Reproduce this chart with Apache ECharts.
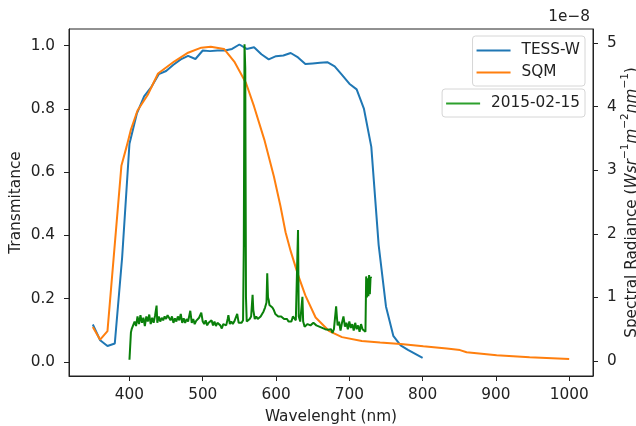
<!DOCTYPE html>
<html>
<head>
<meta charset="utf-8">
<script src="https://cdn.jsdelivr.net/npm/echarts@6/dist/echarts.min.js"></script>
<style>
html,body{margin:0;padding:0;background:#fff;}
#chart{width:636px;height:426px;}
</style>
</head>
<body>
<div id="chart"></div>
<script>
// ---- data ----
var tessWavelength = [350,360,370,380,390,400,410,420,430,440,450,460,470,480,490,500,510,520,530,540,550,560,570,580,590,600,610,620,630,640,650,660,670,680,690,700,710,720,730,740,750,760,770,780,790,800];
var tessValues = [0.118,0.068,0.050,0.058,0.33,0.69,0.785,0.84,0.87,0.91,0.92,0.94,0.957,0.968,0.958,0.985,0.983,0.985,0.985,0.99,1.004,0.99,0.995,0.973,0.957,0.967,0.969,0.977,0.963,0.942,0.944,0.946,0.948,0.935,0.908,0.88,0.862,0.80,0.68,0.37,0.175,0.082,0.052,0.038,0.025,0.012];

var sqmWavelength = [350,360,370,389,396,402,411,425,439,461,480,498,511,529,543,559,570,584,597,606,613,620,630,640,654,672,690,717,742,770,801,833,851,860,901,946,1000];
var sqmValues = [0.11,0.07,0.097,0.62,0.68,0.735,0.795,0.845,0.912,0.95,0.978,0.994,0.997,0.99,0.95,0.882,0.808,0.703,0.587,0.493,0.41,0.35,0.275,0.21,0.14,0.098,0.078,0.066,0.061,0.056,0.049,0.042,0.037,0.030,0.021,0.014,0.0085];

// spectral radiance, units of 1e-8 W sr^-1 m^-2 nm^-1
var specWavelength = [400,401,402,403,405,407,409,411,413,415,417,419,421,423,425,427,429,431,433,435,437,438,440,442,444,446,448,450,452,454,456,458,460,462,464,466,468,470,472,474,476,478,480,483,485,487,489,491,493,495,497,498,500,502,504,506,508,510,512,514,516,518,520,522,524,526,528,530,532,534,535,537,539,541,543,545,547,549,551,553,555,556,557,558,559,560,562,564,566,568,569,571,573,575,577,579,581,583,585,587,588,589,590,591,593,595,597,599,601,603,605,607,609,611,613,615,617,619,621,623,625,627,629,630,631,633,635,636,637,639,641,643,645,647,649,651,653,655,657,659,661,663,665,667,669,671,673,675,677,679,681,682,683,684,686,688,690,692,694,696,698,700,702,704,706,708,710,712,714,716,718,720,722,723,724,725,726,727,728,729,730];
var specValues = [0.02,0.05,0.45,0.50,0.48,0.62,0.55,0.70,0.58,0.72,0.60,0.68,0.55,0.70,0.62,0.73,0.58,0.68,0.60,0.72,0.87,0.60,0.70,0.62,0.68,0.64,0.70,0.66,0.72,0.70,0.64,0.70,0.60,0.67,0.62,0.70,0.64,0.74,0.60,0.67,0.60,0.66,0.62,0.79,0.60,0.66,0.58,0.63,0.60,0.68,0.66,0.76,0.62,0.58,0.64,0.56,0.60,0.58,0.64,0.56,0.62,0.55,0.60,0.58,0.56,0.51,0.58,0.60,0.56,0.66,0.72,0.58,0.62,0.58,0.62,0.60,0.74,0.60,0.62,0.60,0.64,1.8,4.98,4.6,1.0,0.62,0.60,0.66,0.70,1.04,0.80,0.66,0.70,0.66,0.68,0.70,0.72,0.78,0.84,0.92,1.38,1.0,0.96,0.88,0.90,0.84,0.80,0.74,0.72,0.70,0.68,0.70,0.68,0.66,0.65,0.66,0.62,0.64,0.62,0.70,0.72,0.64,0.66,2.06,0.70,0.62,0.64,1.01,0.62,0.54,0.52,0.58,0.60,0.56,0.58,0.60,0.57,0.56,0.58,0.54,0.56,0.52,0.55,0.50,0.52,0.49,0.46,0.50,0.44,0.50,0.52,0.86,0.70,0.56,0.62,0.48,0.60,0.70,0.54,0.60,0.50,0.62,0.52,0.58,0.48,0.60,0.50,0.56,0.46,0.58,0.50,0.52,0.46,1.33,1.0,1.30,1.02,1.35,1.05,1.32,1.30];

var xTicks = [400,500,600,700,800,900,1000];
var leftTicks = [0.0,0.2,0.4,0.6,0.8,1.0];
var rightTicks = [0,1,2,3,4,5];

function pairs(xs, ys){ return xs.map(function(x,i){ return [x, ys[i]]; }); }

var TXT = '#222';
var FONT = 'DejaVu Sans';
var FS = 15.3;

var chart = echarts.init(document.getElementById('chart'), null, {renderer:'canvas'});
var axisCommon = {
  splitLine:{show:false},
  nameMoveOverlap:false,
  axisLine:{show:true, onZero:false, lineStyle:{color:'#222', width:1}},
  axisTick:{show:true, inside:false, length:5, lineStyle:{color:'#222', width:1}},
  nameTextStyle:{color:TXT, fontSize:FS, fontFamily:FONT}
};
var legendCommon = {
  orient:'vertical', right:51,
  backgroundColor:'rgba(255,255,255,0.8)', borderColor:'#d6d6d6', borderWidth:1, borderRadius:3,
  padding:[7,5,6,4], itemWidth:34, itemHeight:2, itemGap:7, icon:'rect',
  textStyle:{fontSize:FS, color:TXT, fontFamily:FONT, padding:[0,0,0,6]}
};
chart.setOption({
  animation:false,
  backgroundColor:'#fff',
  textStyle:{fontFamily:FONT},
  grid:{left:69, right:43, top:29, bottom:50, show:true, borderColor:'#222', borderWidth:1,
        backgroundColor:'transparent', containLabel:false, outerBoundsMode:'none'},
  xAxis:Object.assign({}, axisCommon, {
    type:'value', min:317.5, max:1032.5,
    name:'Wavelenght (nm)', nameLocation:'middle', nameGap:34,
    axisTick:Object.assign({}, axisCommon.axisTick, {customValues:xTicks}),
    axisLabel:{customValues:xTicks, color:TXT, fontSize:FS, fontFamily:FONT, margin:12,
      formatter:function(v){ return String(Math.round(v)); }}
  }),
  yAxis:[
    Object.assign({}, axisCommon, {
      type:'value', min:-0.045, max:1.053, position:'left',
      name:'Transmitance', nameLocation:'middle', nameGap:45, nameRotate:90,
      axisTick:Object.assign({}, axisCommon.axisTick, {customValues:leftTicks}),
      axisLabel:{customValues:leftTicks, color:TXT, fontSize:FS, fontFamily:FONT, margin:14,
        formatter:function(v){ return v.toFixed(1); }}
    }),
    Object.assign({}, axisCommon, {
      type:'value', min:-0.236, max:5.22, position:'right',
      name:'{a|Spectral Radiance (}{i|Wsr}{s|−1}{i|m}{s|−2}{i|nm}{s|−1}{a|)}',
      nameLocation:'middle', nameGap:27, nameRotate:90,
      nameTextStyle:{color:TXT, fontSize:FS, fontFamily:FONT,
        rich:{
          a:{fontSize:FS, color:TXT, fontFamily:FONT, lineHeight:20, verticalAlign:'bottom'},
          i:{fontSize:FS, color:TXT, fontFamily:FONT, fontStyle:'italic', lineHeight:20, verticalAlign:'bottom'},
          s:{fontSize:10.5, color:TXT, fontFamily:FONT, lineHeight:20, verticalAlign:'top'}
        }},
      axisTick:Object.assign({}, axisCommon.axisTick, {customValues:rightTicks}),
      axisLabel:{customValues:rightTicks, color:TXT, fontSize:FS, fontFamily:FONT, margin:14,
        formatter:function(v){ return String(Math.round(v)); }}
    })
  ],
  legend:[
    Object.assign({}, legendCommon, {data:['TESS-W','SQM'], top:36}),
    Object.assign({}, legendCommon, {top:89,
      data:[{name:'2015-02-15', itemStyle:{color:'#2ca02c'}}],
      textStyle:{fontSize:FS, color:TXT, fontFamily:FONT, padding:[0,0,0,6]}})
  ],
  graphic:[
    {type:'text', right:46, top:10, style:{text:'1e−8', fill:TXT, font:FS + 'px DejaVu Sans'}}
  ],
  series:[
    {name:'TESS-W', type:'line', data:pairs(tessWavelength, tessValues), yAxisIndex:0,
     symbol:'none', lineStyle:{color:'#1f77b4', width:2}, itemStyle:{color:'#1f77b4'}},
    {name:'SQM', type:'line', data:pairs(sqmWavelength, sqmValues), yAxisIndex:0,
     symbol:'none', lineStyle:{color:'#ff7f0e', width:2}, itemStyle:{color:'#ff7f0e'}},
    {name:'2015-02-15', type:'line', data:pairs(specWavelength, specValues), yAxisIndex:1,
     symbol:'none', lineStyle:{color:'#0a800a', width:2}, itemStyle:{color:'#0a800a'}}
  ]
});
</script>
</body>
</html>
